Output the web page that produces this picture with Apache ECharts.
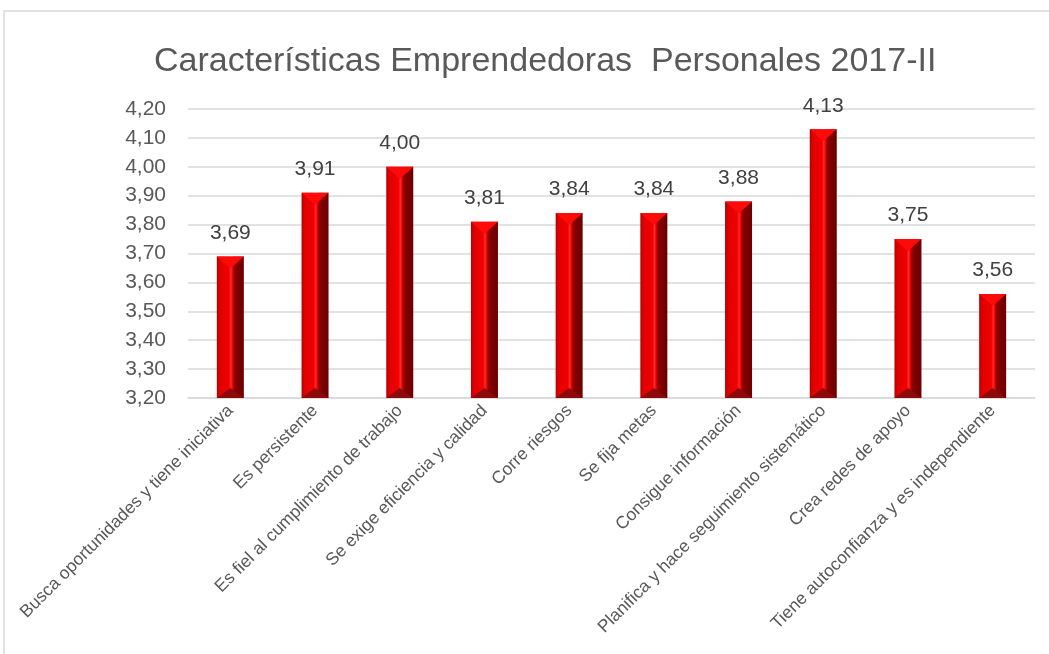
<!DOCTYPE html>
<html>
<head>
<meta charset="utf-8">
<script src="https://cdn.jsdelivr.net/npm/echarts@6/dist/echarts.min.js"></script>
<style>
html,body{margin:0;padding:0;background:#fff;}
#main{width:1049px;height:654px;}
</style>
</head>
<body>
<div id="main"></div>
<script>
const titleText = 'Características Emprendedoras  Personales 2017-II';
const categories = [
  'Busca oportunidades y tiene iniciativa',
  'Es persistente',
  'Es fiel al cumplimiento de trabajo',
  'Se exige eficiencia y calidad',
  'Corre riesgos',
  'Se fija metas',
  'Consigue información',
  'Planifica y hace seguimiento sistemático',
  'Crea redes de apoyo',
  'Tiene autoconfianza y es independiente'
];
const values = [3.69, 3.91, 4.00, 3.81, 3.84, 3.84, 3.88, 4.13, 3.75, 3.56];
const yMin = 3.2, yMax = 4.2, yStep = 0.1;

const fmt = v => v.toFixed(2).replace('.', ',');
const BW = 27;
const chart = echarts.init(document.getElementById('main'));
chart.setOption({
  backgroundColor: '#ffffff',
  animation: false,
  textStyle: { fontFamily: 'Liberation Sans, Arial, sans-serif' },
  title: {
    text: titleText,
    left: 149,
    top: 40,
    textStyle: { fontSize: 34, fontWeight: 'normal', color: '#595959', fontFamily: 'Liberation Sans' }
  },
  graphic: [{
    type: 'rect',
    shape: { x: 4, y: 11, width: 1060, height: 660 },
    style: { fill: 'none', stroke: '#d9d9d9', lineWidth: 1.5 },
    silent: true
  }],
  grid: { left: 188, right: 14, top: 109, bottom: 256, containLabel: false },
  xAxis: {
    type: 'category',
    data: categories,
    axisLine: { lineStyle: { color: '#d9d9d9', width: 1.5 } },
    axisTick: { show: false },
    axisLabel: { rotate: 45, interval: 0, fontSize: 17.5, color: '#595959', margin: 10 }
  },
  yAxis: {
    type: 'value',
    min: yMin, max: yMax, interval: yStep,
    axisLine: { show: false },
    axisTick: { show: false },
    splitLine: { lineStyle: { color: '#d9d9d9', width: 1.5 } },
    axisLabel: { formatter: fmt, fontSize: 21, color: '#595959', margin: 22 }
  },
  series: [{
    type: 'bar',
    data: values,
    barWidth: BW,
    z: 2,
    itemStyle: {
      color: new echarts.graphic.LinearGradient(0, 0, 1, 0, [
        { offset: 0, color: '#b80000' },
        { offset: 0.12, color: '#e00000' },
        { offset: 0.45, color: '#f00000' },
        { offset: 0.52, color: '#ff2a2a' },
        { offset: 0.6, color: '#d40000' },
        { offset: 0.66, color: '#880000' },
        { offset: 1, color: '#6a0000' }
      ])
    },
    label: {
      show: true, position: 'top', distance: 13,
      formatter: p => fmt(p.value), fontSize: 21, color: '#404040'
    }
  }, {
    type: 'custom',
    z: 3,
    silent: true,
    data: values.map((v, i) => [i, v]),
    renderItem: function (params, api) {
      const top = api.coord([api.value(0), api.value(1)]);
      const bot = api.coord([api.value(0), yMin]);
      const h = BW / 2;
      const x0 = top[0] - h, x1 = top[0] + h;
      return {
        type: 'group',
        children: [{
          type: 'polygon',
          shape: { points: [[x0, top[1]], [x1, top[1]], [top[0], top[1] + 12]] },
          style: { fill: '#ff0a0a' }
        }, {
          type: 'polygon',
          shape: { points: [[x0, bot[1]], [x1, bot[1]], [top[0], bot[1] - 10]] },
          style: { fill: '#8c0a0a' }
        }]
      };
    }
  }]
});
</script>
</body>
</html>
